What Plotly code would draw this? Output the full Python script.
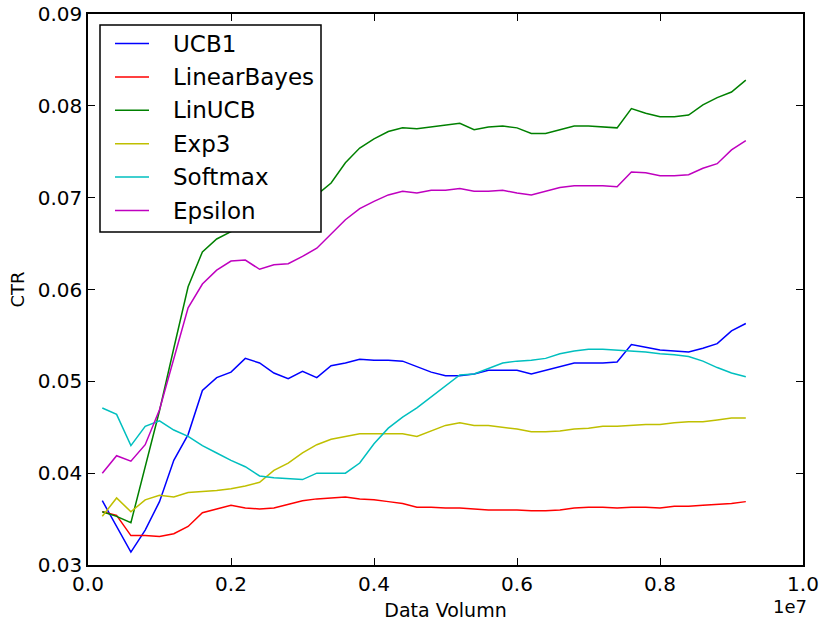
import plotly.graph_objects as go

# Data volume in units of 1e7 samples
data_volume = [0.02, 0.04, 0.06, 0.08, 0.10, 0.12, 0.14, 0.16, 0.18, 0.20,
               0.22, 0.24, 0.26, 0.28, 0.30, 0.32, 0.34, 0.36, 0.38, 0.40,
               0.42, 0.44, 0.46, 0.48, 0.50, 0.52, 0.54, 0.56, 0.58, 0.60,
               0.62, 0.64, 0.66, 0.68, 0.70, 0.72, 0.74, 0.76, 0.78, 0.80,
               0.82, 0.84, 0.86, 0.88, 0.90, 0.92]

ucb1 = [0.0370, 0.0342, 0.0314, 0.0338, 0.0369, 0.0414, 0.0442, 0.0490, 0.0504, 0.0510,
        0.0525, 0.0520, 0.0509, 0.0503, 0.0511, 0.0504, 0.0517, 0.0520, 0.0524, 0.0523,
        0.0523, 0.0522, 0.0516, 0.0510, 0.0506, 0.0506, 0.0508, 0.0512, 0.0512, 0.0512,
        0.0508, 0.0512, 0.0516, 0.0520, 0.0520, 0.0520, 0.0521, 0.0540, 0.0537, 0.0534,
        0.0533, 0.0532, 0.0536, 0.0541, 0.0555, 0.0563]

linear_bayes = [0.0358, 0.0354, 0.0332, 0.0332, 0.0331, 0.0334, 0.0342, 0.0357, 0.0361, 0.0365,
                0.0362, 0.0361, 0.0362, 0.0366, 0.0370, 0.0372, 0.0373, 0.0374, 0.0372, 0.0371,
                0.0369, 0.0367, 0.0363, 0.0363, 0.0362, 0.0362, 0.0361, 0.0360, 0.0360, 0.0360,
                0.0359, 0.0359, 0.0360, 0.0362, 0.0363, 0.0363, 0.0362, 0.0363, 0.0363, 0.0362,
                0.0364, 0.0364, 0.0365, 0.0366, 0.0367, 0.0369]

lin_ucb = [0.0358, 0.0353, 0.0346, 0.0408, 0.0468, 0.0536, 0.0603, 0.0641, 0.0655, 0.0663,
           0.0668, 0.0673, 0.0679, 0.0686, 0.0694, 0.0703, 0.0716, 0.0738, 0.0754, 0.0764,
           0.0772, 0.0776, 0.0775, 0.0777, 0.0779, 0.0781, 0.0774, 0.0777, 0.0778, 0.0776,
           0.0770, 0.0770, 0.0774, 0.0778, 0.0778, 0.0777, 0.0776, 0.0797, 0.0792, 0.0788,
           0.0788, 0.0790, 0.0801, 0.0809, 0.0815, 0.0828]

exp3 = [0.0353, 0.0373, 0.0358, 0.0371, 0.0376, 0.0374, 0.0379, 0.0380, 0.0381, 0.0383,
        0.0386, 0.0390, 0.0403, 0.0411, 0.0422, 0.0431, 0.0437, 0.0440, 0.0443, 0.0443,
        0.0443, 0.0443, 0.0440, 0.0446, 0.0452, 0.0455, 0.0452, 0.0452, 0.0450, 0.0448,
        0.0445, 0.0445, 0.0446, 0.0448, 0.0449, 0.0451, 0.0451, 0.0452, 0.0453, 0.0453,
        0.0455, 0.0456, 0.0456, 0.0458, 0.0460, 0.0460]

softmax = [0.0471, 0.0464, 0.0430, 0.0451, 0.0457, 0.0447, 0.0440, 0.0430, 0.0422, 0.0414,
           0.0407, 0.0397, 0.0395, 0.0394, 0.0393, 0.0400, 0.0400, 0.0400, 0.0411, 0.0432,
           0.0449, 0.0461, 0.0471, 0.0483, 0.0496, 0.0507, 0.0508, 0.0514, 0.0520, 0.0522,
           0.0523, 0.0525, 0.0530, 0.0533, 0.0535, 0.0535, 0.0534, 0.0533, 0.0532, 0.0530,
           0.0529, 0.0527, 0.0522, 0.0515, 0.0509, 0.0505]

epsilon = [0.0400, 0.0419, 0.0413, 0.0431, 0.0469, 0.0525, 0.0580, 0.0606, 0.0621, 0.0631,
           0.0632, 0.0622, 0.0627, 0.0628, 0.0636, 0.0645, 0.0661, 0.0676, 0.0688, 0.0696,
           0.0703, 0.0707, 0.0705, 0.0708, 0.0708, 0.0710, 0.0707, 0.0707, 0.0708, 0.0705,
           0.0703, 0.0707, 0.0711, 0.0713, 0.0713, 0.0713, 0.0712, 0.0728, 0.0727, 0.0724,
           0.0724, 0.0725, 0.0732, 0.0737, 0.0752, 0.0762]

series_names = ["UCB1", "LinearBayes", "LinUCB", "Exp3", "Softmax", "Epsilon"]
series_values = [ucb1, linear_bayes, lin_ucb, exp3, softmax, epsilon]
series_colors = ["#0000ff", "#ff0000", "#008000", "#bfbf00", "#00bfbf", "#bf00bf"]

x_ticks = [0.0, 0.2, 0.4, 0.6, 0.8, 1.0]
y_ticks = [0.03, 0.04, 0.05, 0.06, 0.07, 0.08, 0.09]

FONT = "DejaVu Sans"
W, H = 819, 621
ML, MR, MT, MB = 88, 16, 14, 56
PW, PH = W - ML - MR, H - MT - MB


def px_x(p):
    """Pixel column -> paper x."""
    return (p - ML) / PW


def px_y(p):
    """Pixel row -> paper y."""
    return 1 - (p - MT) / PH


fig = go.Figure()
for name, vals, col in zip(series_names, series_values, series_colors):
    fig.add_trace(go.Scatter(
        x=data_volume, y=vals, mode="lines", name=name, showlegend=False,
        line=dict(color=col, width=1.5),
    ))

axis_common = dict(
    showline=True, linecolor="black", linewidth=1.5, mirror="ticks",
    ticks="inside", ticklen=7, tickwidth=1.2, tickcolor="black",
    showgrid=False, zeroline=False, automargin=False,
    tickfont=dict(family=FONT, size=20, color="black"),
)

# Boxed legend in the upper-left corner of the axes
shapes = [dict(type="rect", xref="paper", yref="paper",
               x0=px_x(100), x1=px_x(321), y0=px_y(232), y1=px_y(25),
               line=dict(color="black", width=1.5), fillcolor="white", layer="above")]
annotations = []
row_y0, row_step = 43.5, 33.4
for i, (name, col) in enumerate(zip(series_names, series_colors)):
    yy = px_y(row_y0 + i * row_step)
    shapes.append(dict(type="line", xref="paper", yref="paper",
                       x0=px_x(115), x1=px_x(149), y0=yy, y1=yy,
                       line=dict(color=col, width=1.5), layer="above"))
    annotations.append(dict(text=name, xref="paper", yref="paper",
                            x=px_x(171), y=yy, xanchor="left", yanchor="middle",
                            showarrow=False,
                            font=dict(family=FONT, size=23, color="black")))

# Offset multiplier for the x axis
annotations.append(dict(
    text="1e7", xref="paper", yref="paper", x=px_x(790), y=px_y(606),
    xanchor="center", yanchor="middle", showarrow=False,
    font=dict(family=FONT, size=18, color="black"),
))

fig.update_layout(
    width=W, height=H,
    margin=dict(l=ML, r=MR, t=MT, b=MB),
    paper_bgcolor="white", plot_bgcolor="white",
    font=dict(family=FONT, color="black"),
    showlegend=False,
    xaxis=dict(range=[0, 1.0], tickvals=x_ticks, tickformat=".1f",
               title=dict(text="Data Volumn", font=dict(size=19), standoff=9),
               **axis_common),
    yaxis=dict(range=[0.03, 0.09], tickvals=y_ticks, tickformat=".2f",
               title=dict(text="CTR", font=dict(size=18), standoff=8),
               **axis_common),
    shapes=shapes,
    annotations=annotations,
)

fig.write_html("out.html")
